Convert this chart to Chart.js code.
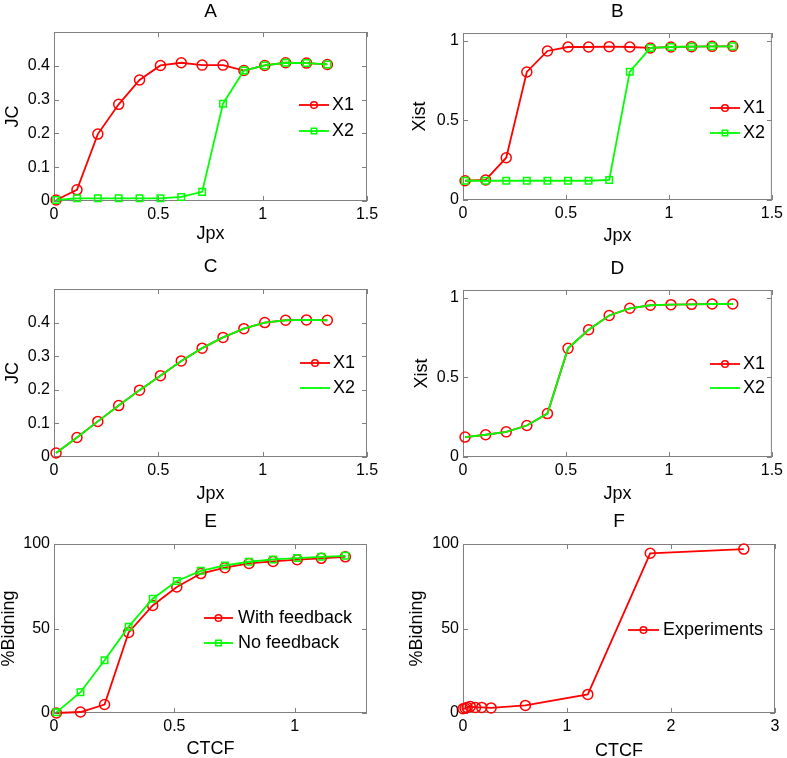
<!DOCTYPE html>
<html><head><meta charset="utf-8">
<script src="https://cdn.jsdelivr.net/npm/chart.js@4/dist/chart.umd.min.js"></script>
<style>
html,body{margin:0;padding:0;background:#fff;overflow:hidden;}
#wrap{position:relative;width:787px;height:758px;overflow:hidden;background:#fff;}
canvas{position:absolute;}
</style></head><body><div id="wrap">
<canvas id="cA"></canvas><canvas id="cB"></canvas><canvas id="cC"></canvas>
<canvas id="cD"></canvas><canvas id="cE"></canvas><canvas id="cF"></canvas>
</div>
<script>
// ---------- data ----------
const jpx = [0.01,0.11,0.21,0.31,0.41,0.51,0.61,0.71,0.81,0.91,1.01,1.11,1.21,1.31];
const jcA_X1 = [0.003,0.033,0.198,0.286,0.358,0.401,0.409,0.402,0.402,0.386,0.401,0.409,0.408,0.404];
const jcA_X2 = [0.003,0.008,0.008,0.008,0.008,0.008,0.012,0.027,0.288,0.386,0.401,0.409,0.408,0.404];
const xistB_X1 = [0.121,0.126,0.266,0.805,0.937,0.962,0.962,0.964,0.962,0.956,0.962,0.964,0.966,0.966];
const xistB_X2 = [0.121,0.121,0.121,0.121,0.121,0.121,0.121,0.126,0.807,0.956,0.962,0.964,0.966,0.966];
const jcC_X1 = [0.012,0.058,0.106,0.153,0.199,0.242,0.286,0.324,0.356,0.382,0.400,0.407,0.408,0.407];
const jcC_X2 = [0.012,0.058,0.106,0.153,0.199,0.242,0.286,0.324,0.356,0.382,0.400,0.407,0.408,0.407];
const xistD_X1 = [0.125,0.140,0.158,0.198,0.273,0.683,0.800,0.890,0.935,0.954,0.958,0.960,0.962,0.962];
const xistD_X2 = [0.125,0.140,0.158,0.198,0.273,0.683,0.800,0.890,0.935,0.954,0.958,0.960,0.962,0.962];
const ctcfE = [0.01,0.11,0.21,0.31,0.41,0.51,0.61,0.71,0.81,0.91,1.01,1.11,1.21];
const bindE_feedback = [0,0.6,5.0,47.7,63.6,74.6,82.5,86.0,88.5,89.7,90.7,91.5,92.4];
const bindE_noFeedback = [0.4,12.3,31.2,51.1,67.6,78.1,84.1,87.3,89.5,90.9,91.7,92.4,93.0];
const ctcfF = [0,0.02,0.04,0.07,0.12,0.18,0.27,0.6,1.2,1.8,2.7];
const bindF_exp = [2.5,2.8,3.3,3.9,3.3,3.3,3.0,4.5,11.0,94.5,97.0];

const xTicksJpx = [0,0.5,1,1.5];
const xTicksE = [0,0.5,1];
const xTicksF = [0,1,2,3];
const yTicksJC = [0,0.1,0.2,0.3,0.4];
const yTicksXist = [0,0.5,1];
const yTicksBind = [0,50,100];

// ---------- styles ----------
const FONT = "'Liberation Sans', Arial, Helvetica, sans-serif";
const RED = '#ff0000', GREEN = '#00ff00', AXIS = '#808080';

function pts(xs, ys){ return xs.map((x,i)=>({x:x, y:ys[i]})); }

function series(label, xs, ys, color, marker, order){
  return {
    label, data: pts(xs, ys), borderColor: color, backgroundColor: color,
    borderWidth: 1.8, pointStyle: marker || 'circle',
    pointRadius: marker === false ? 0 : (marker === 'rect' ? 4.6 : 5),
    pointBorderWidth: 1.5, pointBackgroundColor: 'rgba(0,0,0,0)', pointBorderColor: color,
    pointHoverRadius: 0, tension: 0, fill: false, clip: false, order: order,
    showMarker: marker !== false
  };
}

const boxPlugin = {
  id: 'mlBox',
  beforeDatasetsDraw(chart){
    const {ctx, chartArea:a, scales} = chart;
    ctx.save();
    ctx.strokeStyle = AXIS; ctx.lineWidth = 1;
    ctx.strokeRect(a.left+0.5, a.top+0.5, a.right-a.left-1, a.bottom-a.top-1);
    const L = 5;
    ctx.beginPath();
    scales.x.ticks.forEach(t=>{
      const px = Math.round(scales.x.getPixelForValue(t.value))+0.5;
      ctx.moveTo(px, a.bottom); ctx.lineTo(px, a.bottom-L);
      ctx.moveTo(px, a.top); ctx.lineTo(px, a.top+L);
    });
    scales.y.ticks.forEach(t=>{
      const py = Math.round(scales.y.getPixelForValue(t.value))+0.5;
      ctx.moveTo(a.left, py); ctx.lineTo(a.left+L, py);
      ctx.moveTo(a.right, py); ctx.lineTo(a.right-L, py);
    });
    ctx.stroke();
    ctx.restore();
  }
};

const legendPlugin = {
  id: 'mlLegend',
  afterDatasetsDraw(chart, args, opts){
    const ctx = chart.ctx;
    ctx.save();
    chart.data.datasets.forEach((ds, i)=>{
      const y = opts.rows[i];
      ctx.strokeStyle = ds.borderColor; ctx.lineWidth = ds.borderWidth;
      ctx.beginPath(); ctx.moveTo(opts.x0, y); ctx.lineTo(opts.x1, y); ctx.stroke();
      if (ds.showMarker){
        const cx = (opts.x0+opts.x1)/2;
        ctx.lineWidth = 1.5;
        ctx.beginPath();
        if (ds.pointStyle === 'rect') ctx.rect(cx-2.7, y-2.7, 5.4, 5.4);
        else ctx.arc(cx, y, 3.3, 0, Math.PI*2);
        ctx.stroke();
      }
      ctx.fillStyle = '#000';
      ctx.font = '18px ' + FONT;
      ctx.textBaseline = 'middle'; ctx.textAlign = 'left';
      ctx.fillText(ds.label, opts.tx, y);
    });
    ctx.restore();
  }
};

function fmt(v){ return String(+Number(v).toFixed(3)); }

function panel(p){
  const cv = document.getElementById(p.id);
  cv.width = p.cw; cv.height = p.ch;
  cv.style.left = p.cx + 'px'; cv.style.top = p.cy + 'px';
  cv.style.width = p.cw + 'px'; cv.style.height = p.ch + 'px';
  return new Chart(cv, {
    type: 'line',
    data: { datasets: p.datasets },
    plugins: [boxPlugin, legendPlugin],
    options: {
      responsive: false, animation: false, devicePixelRatio: 1,
      layout: { padding: { left: 0, right: p.cw - p.aR, top: 0, bottom: 0 } },
      plugins: {
        legend: { display: false }, tooltip: { enabled: false },
        title: { display: true, text: p.title, fullSize: false, color: '#000',
          font: { family: FONT, size: 19, weight: 'normal', lineHeight: 1 },
          padding: { top: p.tTop, bottom: p.aT - p.tTop - 19 } },
        mlLegend: p.legend
      },
      scales: {
        x: {
          type: 'linear', min: p.xMin, max: p.xMax,
          afterBuildTicks: s => { s.ticks = p.xTicks.map(v=>({value:v})); },
          afterFit: s => { s.height = p.ch - p.aB; },
          grid: { display: false, drawTicks: false }, border: { display: false },
          ticks: { color: '#000', padding: 4, maxRotation: 0, autoSkip: false,
            font: { family: FONT, size: 16 }, callback: v => fmt(v) },
          title: { display: true, text: p.xTitle, color: '#000',
            font: { family: FONT, size: 18, lineHeight: 1 }, padding: { top: 0, bottom: p.xtPad } }
        },
        y: {
          type: 'linear', min: p.yMin, max: p.yMax,
          afterBuildTicks: s => { s.ticks = p.yTicks.map(v=>({value:v})); },
          afterFit: s => { s.width = p.aL; },
          grid: { display: false, drawTicks: false }, border: { display: false },
          ticks: { color: '#000', padding: 4, autoSkip: false,
            font: { family: FONT, size: 16 }, callback: v => fmt(v) },
          title: { display: true, text: p.yTitle, color: '#000',
            font: { family: FONT, size: 18, lineHeight: 1 }, padding: { top: p.ytPad, bottom: 0 } }
        }
      }
    }
  });
}

// Panel A
panel({ id:'cA', cx:0, cy:0, cw:393, ch:250, aL:54, aR:367, aT:32, aB:201, tTop:2.5,
  title:'A', xTitle:'Jpx', yTitle:'JC', xtPad:6.5, ytPad:3.8,
  xMin:0, xMax:1.5, yMin:0, yMax:0.5, xTicks:xTicksJpx, yTicks:yTicksJC,
  datasets:[ series('X1', jpx, jcA_X1, RED, 'circle', 2), series('X2', jpx, jcA_X2, GREEN, 'rect', 1) ],
  legend:{ x0:299, x1:329, tx:332, rows:[105,131] } });
// Panel B
panel({ id:'cB', cx:393, cy:0, cw:394, ch:250, aL:70, aR:382, aT:33, aB:200, tTop:2.5,
  title:'B', xTitle:'Jpx', yTitle:'Xist', xtPad:5, ytPad:17.8,
  xMin:0, xMax:1.5, yMin:0, yMax:1.05, xTicks:xTicksJpx, yTicks:yTicksXist,
  datasets:[ series('X1', jpx, xistB_X1, RED, 'circle', 2), series('X2', jpx, xistB_X2, GREEN, 'rect', 1) ],
  legend:{ x0:317, x1:347, tx:350, rows:[108,133] } });
// Panel C
panel({ id:'cC', cx:0, cy:250, cw:393, ch:260, aL:54, aR:367, aT:39, aB:207, tTop:7.5,
  title:'C', xTitle:'Jpx', yTitle:'JC', xtPad:6.5, ytPad:4.4,
  xMin:0, xMax:1.5, yMin:0, yMax:0.5, xTicks:xTicksJpx, yTicks:yTicksJC,
  datasets:[ series('X1', jpx, jcC_X1, RED, 'circle', 2), series('X2', jpx, jcC_X2, GREEN, false, 1) ],
  legend:{ x0:300, x1:330, tx:333, rows:[113,138] } });
// Panel D
panel({ id:'cD', cx:393, cy:250, cw:394, ch:260, aL:70, aR:382, aT:40, aB:207, tTop:9,
  title:'D', xTitle:'Jpx', yTitle:'Xist', xtPad:6.5, ytPad:19.8,
  xMin:0, xMax:1.5, yMin:0, yMax:1.05, xTicks:xTicksJpx, yTicks:yTicksXist,
  datasets:[ series('X1', jpx, xistD_X1, RED, 'circle', 2), series('X2', jpx, xistD_X2, GREEN, false, 1) ],
  legend:{ x0:317, x1:347, tx:350, rows:[114,138] } });
// Panel E
panel({ id:'cE', cx:0, cy:505, cw:393, ch:265, aL:54, aR:367, aT:39, aB:208, tTop:7.5,
  title:'E', xTitle:'CTCF', yTitle:'%Bidning', xtPad:11.5, ytPad:0.4,
  xMin:0, xMax:1.3, yMin:0, yMax:100, xTicks:xTicksE, yTicks:yTicksBind,
  datasets:[ series('With feedback', ctcfE, bindE_feedback, RED, 'circle', 2), series('No feedback', ctcfE, bindE_noFeedback, GREEN, 'rect', 1) ],
  legend:{ x0:204, x1:233, tx:238, rows:[113,138] } });
// Panel F
panel({ id:'cF', cx:393, cy:505, cw:394, ch:265, aL:70, aR:382, aT:39, aB:208, tTop:7.5,
  title:'F', xTitle:'CTCF', yTitle:'%Bidning', xtPad:9.5, ytPad:15.4,
  xMin:0, xMax:3, yMin:0, yMax:100, xTicks:xTicksF, yTicks:yTicksBind,
  datasets:[ series('Experiments', ctcfF, bindF_exp, RED, 'circle', 1) ],
  legend:{ x0:235, x1:266, tx:270, rows:[125] } });
</script>
</body></html>
